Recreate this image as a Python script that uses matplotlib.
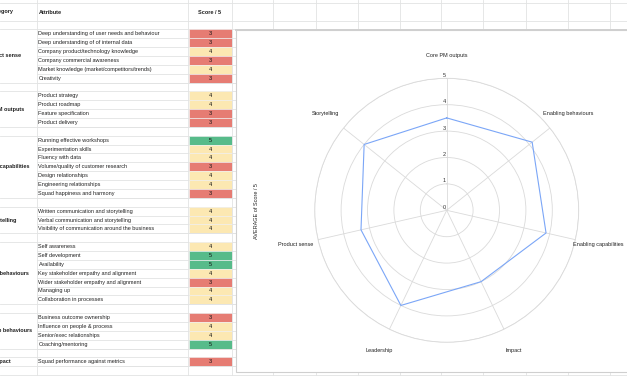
import numpy as np
import matplotlib.pyplot as plt
from matplotlib.patches import Rectangle

plt.rcParams['font.family'] = ['Liberation Sans', 'DejaVu Sans']

# table data
groups = ["Product sense", "Core PM outputs", "Enabling capabilities", "Storytelling",
          "Enabling behaviours", "Leadership behaviours", "Impact"]
attributes = [
    ["Deep understanding of user needs and behaviour", "Deep understanding of of internal data",
     "Company product/technology knowledge", "Company commercial awareness",
     "Market knowledge (market/competitors/trends)", "Creativity"],
    ["Product strategy", "Product roadmap", "Feature specification", "Product delivery"],
    ["Running effective workshops", "Experimentation skills", "Fluency with data",
     "Volume/quality of customer research", "Design relationships", "Engineering relationships",
     "Squad happiness and harmony"],
    ["Written communication and storytelling", "Verbal communication and storytelling",
     "Visibility of communication around the business"],
    ["Self awareness", "Self development", "Availability", "Key stakeholder empathy and alignment",
     "Wider stakeholder empathy and alignment", "Managing up", "Collaboration in processes"],
    ["Business outcome ownership", "Influence on people & process", "Senior/exec relationships",
     "Coaching/mentoring"],
    ["Squad performance against metrics"],
]
scores = [
    [3, 3, 4, 3, 4, 3],
    [4, 4, 3, 3],
    [5, 4, 4, 3, 4, 4, 3],
    [4, 4, 4],
    [4, 5, 5, 4, 3, 4, 4],
    [3, 4, 4, 5],
    [3],
]

# radar data (AVERAGE of Score / 5)
radar_labels = ["Core PM outputs", "Enabling behaviours", "Enabling capabilities", "Impact",
                "Leadership", "Product sense", "Storytelling"]
radar_values = [3.5, 4.14, 3.86, 3.0, 4.0, 3.33, 4.0]

score_colors = {3: "#e67c73", 4: "#fce8b2", 5: "#57bb8a"}
grid_c = "#e2e3e3"
txt_c = "#222222"
fs = 3.95

fig = plt.figure(figsize=(6.27, 3.76), dpi=100)
bg = fig.add_axes([0, 0, 1, 1])
bg.set_xlim(0, 627)
bg.set_ylim(376, 0)
bg.axis('off')

row_top = 29.3
row_h = 8.87

# header
for y in [3, 20.7, row_top]:
    bg.plot([0, 627], [y, y], color=grid_c, lw=0.6)
bg.text(1.5, 12, "Category", fontsize=fs, fontweight='bold', ha='center', va='center', color=txt_c)
bg.text(38.5, 12, "Attribute", fontsize=fs, fontweight='bold', ha='left', va='center', color=txt_c)
bg.text(210, 12, "Score / 5", fontsize=fs, fontweight='bold', ha='center', va='center', color=txt_c)

r = 0
for g, attrs, sc in zip(groups, attributes, scores):
    y0 = row_top + r * row_h
    y1 = y0 + len(attrs) * row_h
    bg.text(2, (y0 + y1) / 2, g, fontsize=fs, fontweight='bold', ha='center', va='center', color=txt_c)
    for a, s in zip(attrs, sc):
        yt = row_top + r * row_h
        bg.add_patch(Rectangle((188.5, yt), 43, row_h, facecolor=score_colors[s],
                               edgecolor='#f4f4f4', lw=0.4, zorder=2))
        bg.text(38.5, yt + row_h / 2, a, fontsize=fs, ha='left', va='center', color=txt_c)
        bg.text(210, yt + row_h / 2, str(s), fontsize=fs, ha='center', va='center', color='#111111', zorder=3)
        bg.plot([37, 627], [yt + row_h, yt + row_h], color=grid_c, lw=0.6)
        r += 1
    # blank row after each group
    bg.plot([0, 627], [y1, y1], color=grid_c, lw=0.6)
    bg.plot([0, 627], [y1 + row_h, y1 + row_h], color=grid_c, lw=0.6)
    r += 1

for x in [37, 188, 232, 273, 316, 358, 400, 441, 483, 526, 568, 610]:
    bg.plot([x, x], [0, 376], color=grid_c, lw=0.6)

# chart box
bg.add_patch(Rectangle((236, 29.5), 400, 342.5, facecolor='white', edgecolor='#cfcfcf', lw=0.8, zorder=4))
bg.plot([236, 627], [29.5, 29.5], color='#d0d0d0', lw=1.4, zorder=5)
bg.text(257, 211, "AVERAGE of Score / 5", fontsize=fs, rotation=90, ha='center', va='center',
        color=txt_c, zorder=6)

# radar
cx, cy, R = 446.7, 210.3, 132
ax = fig.add_axes([(cx - R) / 627, (376 - cy - R) / 376, 2 * R / 627, 2 * R / 376],
                  projection='polar', zorder=10)
ax.patch.set_alpha(0)
ax.set_theta_zero_location('N')
ax.set_theta_direction(-1)
angles = np.linspace(0, 2 * np.pi, len(radar_labels), endpoint=False)
ax.set_ylim(0, 5)
ax.set_yticks([1, 2, 3, 4, 5])
ax.set_yticklabels([])
ax.set_xticks(angles)
ax.set_xticklabels([])
ax.tick_params(length=0)
ax.grid(color='#dadada', lw=0.6)
ax.spines['polar'].set_color('#dadada')
ax.spines['polar'].set_linewidth(0.6)

vals = list(radar_values) + [radar_values[0]]
ang = list(angles) + [angles[0]]
ax.plot(ang, vals, color='#7ba6f7', lw=0.8)

for v in range(6):
    ax.annotate(str(v), xy=(0, v), xytext=(-0.6, 0.4), textcoords='offset points',
                ha='right', va='bottom', fontsize=fs, color='#333333')
for a, lab in zip(angles, radar_labels):
    ax.text(a, 5.88, lab, fontsize=fs, ha='center', va='center', color=txt_c, clip_on=False)

fig.savefig('out.png', dpi=100)
